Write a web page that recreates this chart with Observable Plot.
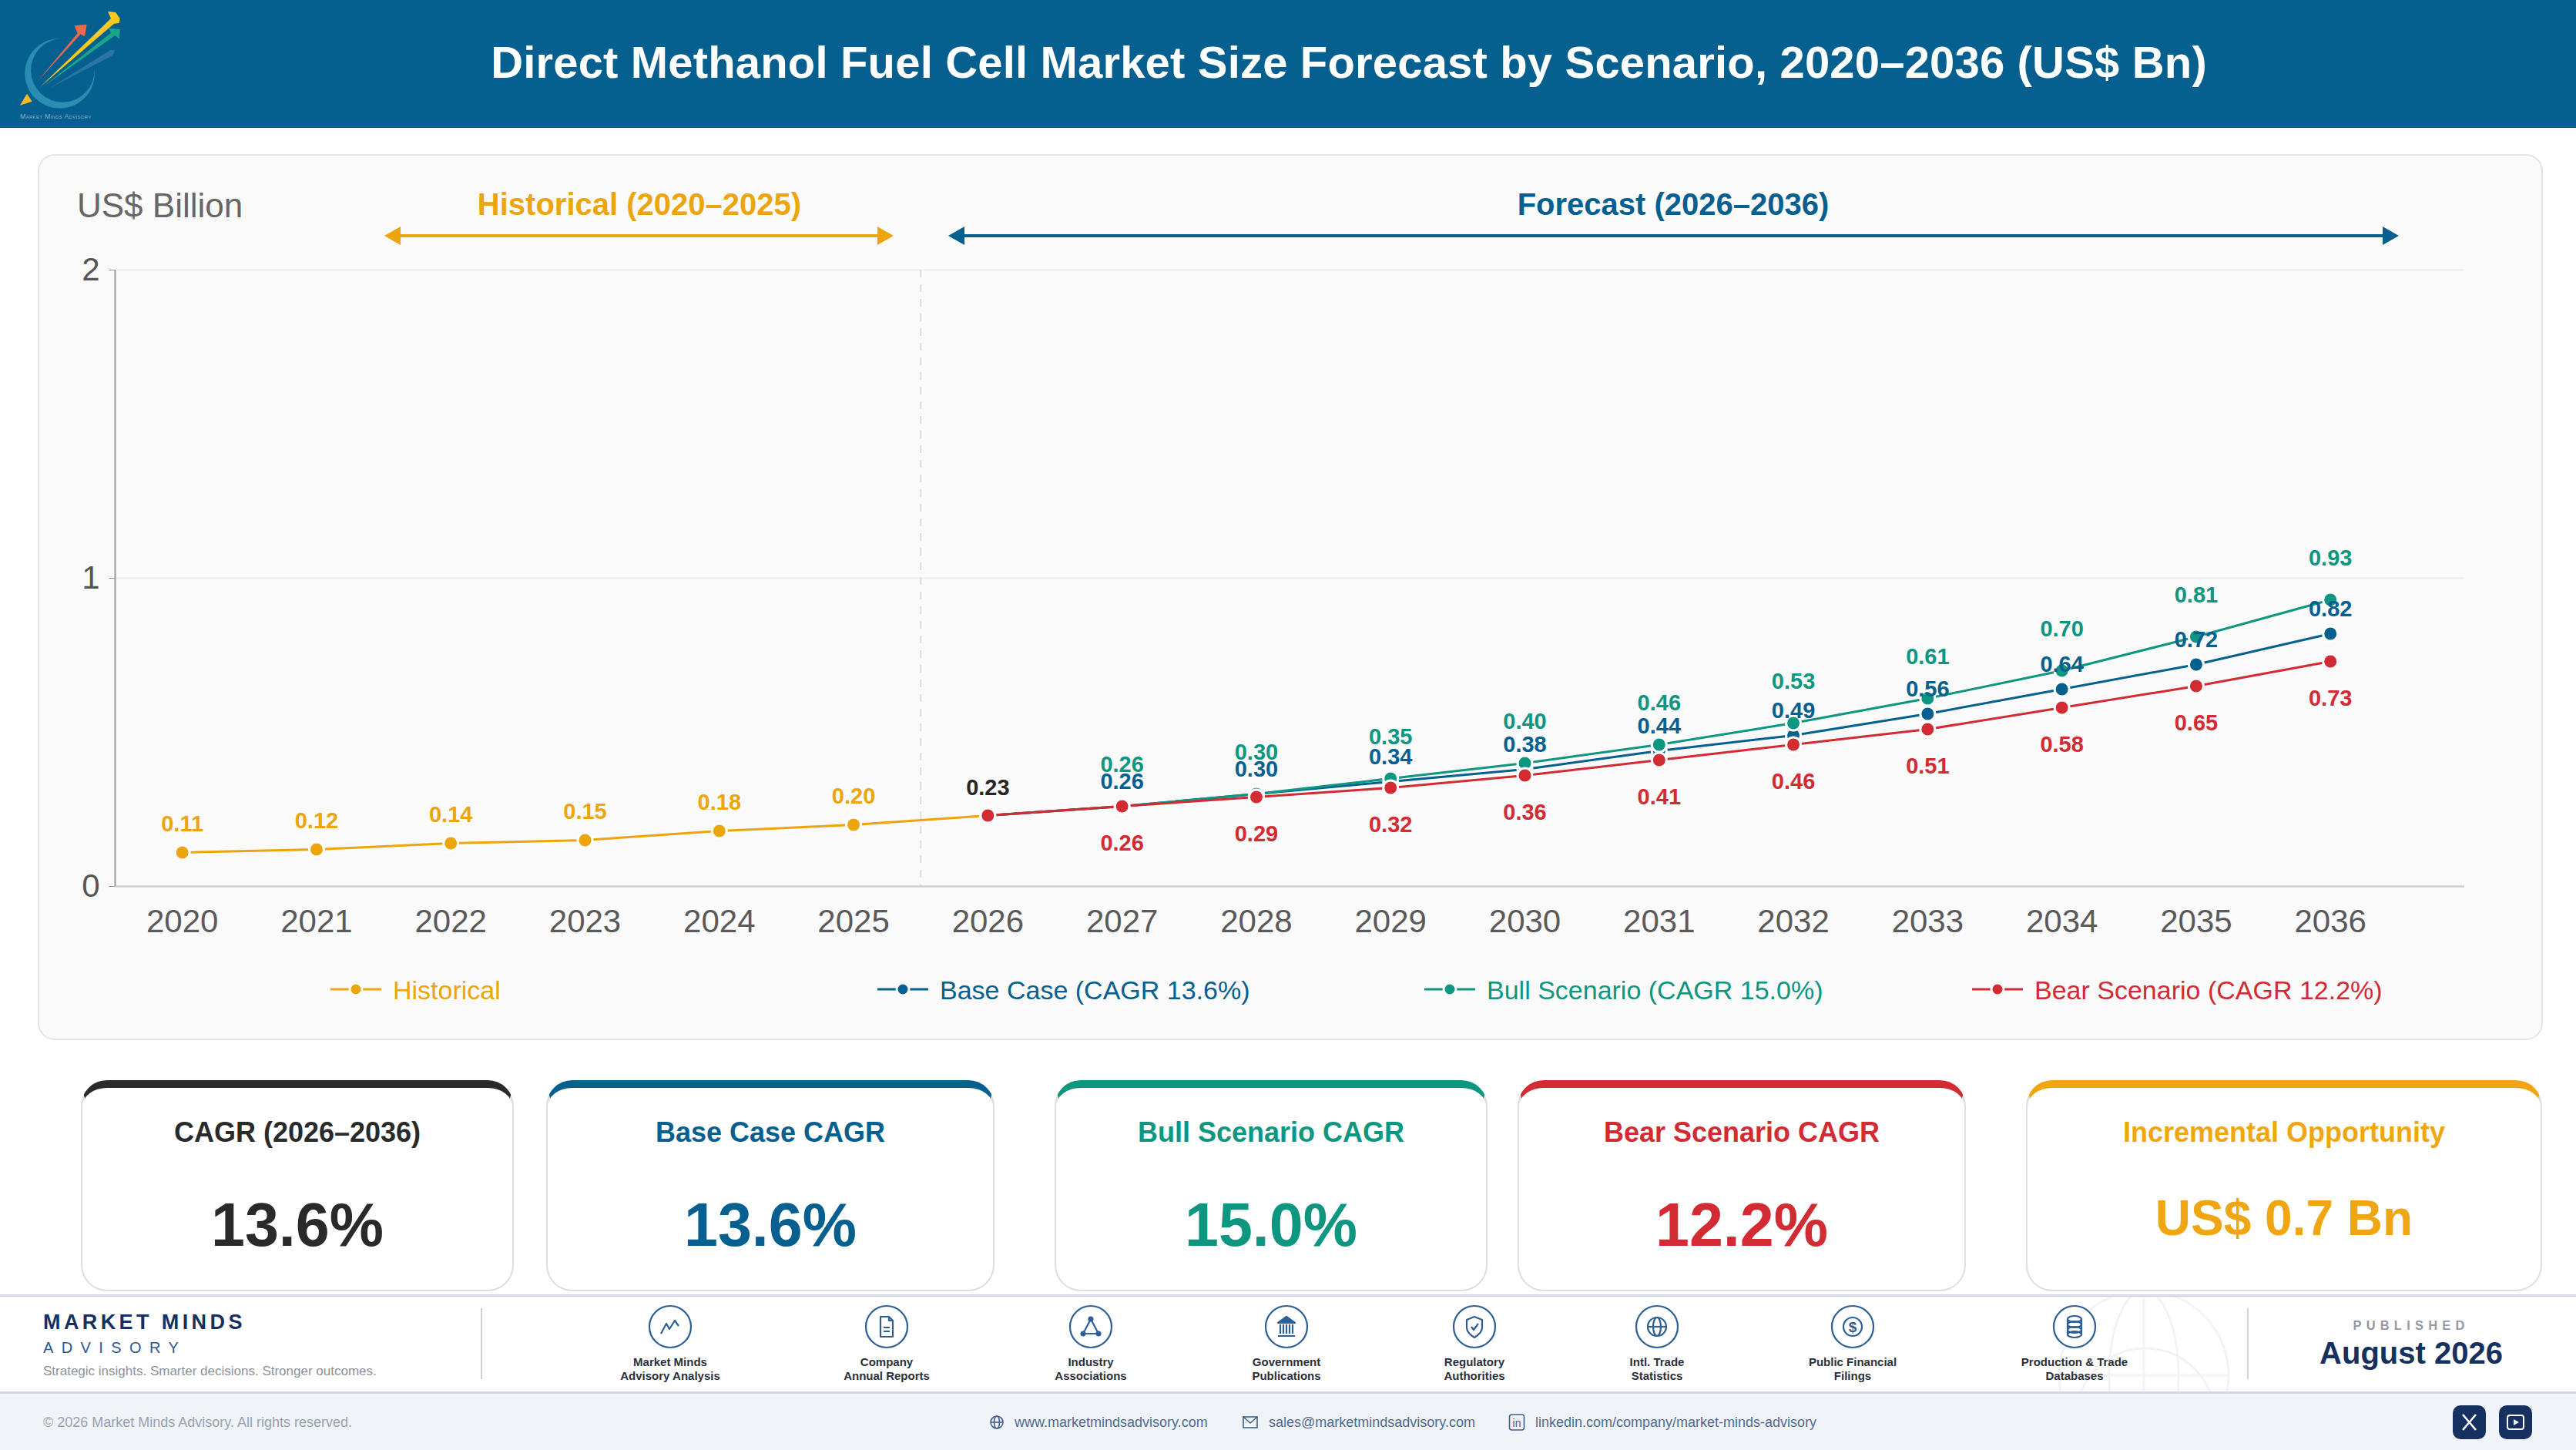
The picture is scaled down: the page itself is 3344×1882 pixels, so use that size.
<!DOCTYPE html>
<html>
<head>
<meta charset="utf-8">
<script src="https://cdn.jsdelivr.net/npm/d3@7"></script>
<script src="https://cdn.jsdelivr.net/npm/@observablehq/plot@0.6"></script>
<style>
html,body{margin:0;padding:0;background:#fff}
body{width:3344px;height:1882px;position:relative;overflow:hidden;font-family:"Liberation Sans",Arial,sans-serif}
.a{position:absolute;white-space:nowrap;line-height:1}
.c{transform:translate(-50%,-50%)}
.l{transform:translateY(-50%)}
.card{position:absolute;box-sizing:border-box;top:1402px;height:274px;background:#fff;border:2px solid #dedede;border-top-width:10px;border-top-style:solid;border-radius:34px}
.card .t{position:absolute;left:0;right:0;top:40px;text-align:center;font-weight:700;font-size:36px;line-height:1;white-space:nowrap}
.card .v{position:absolute;left:0;right:0;top:138px;text-align:center;font-weight:700;font-size:79px;line-height:1;white-space:nowrap}
</style>
</head>
<body>
<script>
const years = [2020,2021,2022,2023,2024,2025,2026,2027,2028,2029,2030,2031,2032,2033,2034,2035,2036];
const historicalYears = [2020,2021,2022,2023,2024,2025];
const historicalValues = [0.11,0.12,0.14,0.15,0.18,0.20];
const forecastYears = [2026,2027,2028,2029,2030,2031,2032,2033,2034,2035,2036];
const baseValues = [0.23,0.26,0.30,0.34,0.38,0.44,0.49,0.56,0.64,0.72,0.82];
const bullValues = [0.23,0.26,0.30,0.35,0.40,0.46,0.53,0.61,0.70,0.81,0.93];
const bearValues = [0.23,0.26,0.29,0.32,0.36,0.41,0.46,0.51,0.58,0.65,0.73];
const yTicks = [0,1,2];
const colors = {hist:"#eca50d",base:"#05608f",bull:"#0e9680",bear:"#d22b33",dark:"#262626"};

const cards = [
 {title:"CAGR (2026–2036)",value:"13.6%",color:"#2a2a2a",left:105,width:562},
 {title:"Base Case CAGR",value:"13.6%",color:"#05608f",left:709,width:582},
 {title:"Bull Scenario CAGR",value:"15.0%",color:"#0e9680",left:1369,width:562},
 {title:"Bear Scenario CAGR",value:"12.2%",color:"#d22b33",left:1970,width:582},
 {title:"Incremental Opportunity",value:"US$ 0.7 Bn",color:"#f0a612",left:2630,width:670,small:true}
];
const legendItems = [
 {label:"Historical",color:colors.hist,x:429},
 {label:"Base Case (CAGR 13.6%)",color:colors.base,x:1139},
 {label:"Bull Scenario (CAGR 15.0%)",color:colors.bull,x:1849},
 {label:"Bear Scenario (CAGR 12.2%)",color:colors.bear,x:2560}
];
const sources = [
 {l:["Market Minds","Advisory Analysis"],x:870,i:'<path d="M-12 9L-5 -4L-1 3L6 -8L11 -1" fill="none"/>'},
 {l:["Company","Annual Reports"],x:1151,i:'<path d="M-8 -13H3L8 -8V13H-8Z" fill="none"/><path d="M-4 1H4M-4 6H4M3 -13V-8H8" fill="none"/>'},
 {l:["Industry","Associations"],x:1416,i:'<path d="M0 -10L-10 9H10Z" fill="none"/><circle cx="0" cy="-10" r="2.5" fill="#2d5f96"/><circle cx="-10" cy="9" r="2.5" fill="#2d5f96"/><circle cx="10" cy="9" r="2.5" fill="#2d5f96"/>'},
 {l:["Government","Publications"],x:1670,i:'<path d="M0 -13L11 -5H-11Z" fill="#2d5f96"/><path d="M-8 -3V9M-4 -3V9M0 -3V9M4 -3V9M8 -3V9M-11 12H11" fill="none"/>'},
 {l:["Regulatory","Authorities"],x:1914,i:'<path d="M0 -13L10 -9V1C10 7 5 11 0 14C-5 11 -10 7 -10 1V-9Z" fill="none"/><path d="M-4 0L-1 4L5 -4" fill="none"/>'},
 {l:["Intl. Trade","Statistics"],x:2151,i:'<circle r="12" fill="none"/><ellipse rx="5" ry="12" fill="none"/><path d="M-12 0H12" fill="none"/>'},
 {l:["Public Financial","Filings"],x:2405,i:'<circle r="12" fill="none"/><text y="7" text-anchor="middle" font-size="19" font-weight="700" fill="#2d5f96" stroke="none" font-family="Liberation Sans">$</text>'},
 {l:["Production & Trade","Databases"],x:2693,i:'<ellipse cy="-10" rx="9" ry="4" fill="none"/><ellipse cy="-3" rx="9" ry="4" fill="none"/><ellipse cy="4" rx="9" ry="4" fill="none"/><ellipse cy="10" rx="9" ry="4" fill="none"/><path d="M-9 -10V10M9 -10V10" fill="none"/>'}
];
const contacts = [
 {text:"www.marketmindsadvisory.com",ix:1294,tx:1317,i:'<circle r="8" fill="none"/><ellipse rx="3.5" ry="8" fill="none"/><path d="M-8 0H8"/>'},
 {text:"sales@marketmindsadvisory.com",ix:1623,tx:1647,i:'<rect x="-9" y="-7" width="18" height="14" fill="none"/><path d="M-9 -7L0 1L9 -7" fill="none"/>'},
 {text:"linkedin.com/company/market-minds-advisory",ix:1969,tx:1993,i:'<rect x="-9.5" y="-10" width="19" height="20" rx="3" fill="none"/><text x="0" y="6" text-anchor="middle" font-size="14" fill="#3f5f8a" stroke="none" font-family="Liberation Sans">in</text>'}
];

function el(cls,style,html){const d=document.createElement("div");d.className=cls;d.style.cssText=style;if(html!==undefined)d.innerHTML=html;document.body.appendChild(d);return d;}

/* header */
el("a","left:0;top:0;width:3344px;height:166px;background:#05608f");
el("a c","left:1751px;top:81px;color:#fff;font-weight:700;font-size:58px;letter-spacing:0.17px","Direct Methanol Fuel Cell Market Size Forecast by Scenario, 2020–2036 (US$ Bn)");
el("a","left:0;top:0;width:180px;height:166px",`<svg width="180" height="166" viewBox="0 0 540 498">
 <path d="M240 150A136 136 0 1 0 368 270A124 124 0 1 1 240 150Z" fill="#2b8db2"/>
 <path d="M143 320L302 130L290 100L338 95L330 142L314 133Z" fill="#ec6a4c"/>
 <path d="M155 340L432 72L420 44L450 48L467 72L464 90L444 92Z" fill="#ffc91f"/>
 <path d="M165 340L432 128L424 110L468 114L464 152L448 138Z" fill="#1aa58b"/>
 <path d="M190 345L430 195L447 195L440 215Z" fill="#2a74a6"/>
 <path d="M105 365L125 395L78 410Z" fill="#fdb825"/>
 <text x="78" y="462" font-family="Liberation Sans" font-size="26" letter-spacing="1" font-variant="small-caps" fill="#8fb0c4">Market Minds Advisory</text>
</svg>`);

/* chart panel */
el("a","left:49px;top:200px;width:3252px;height:1150px;box-sizing:border-box;background:#fafafa;border:2px solid #e4e4e4;border-radius:22px");
el("a l","left:100px;top:267px;color:#666;font-size:44px","US$ Billion");
el("a c","left:830px;top:265px;color:#eca50d;font-size:40px;font-weight:700","Historical (2020–2025)");
el("a c","left:2172px;top:265px;color:#05608f;font-size:40px;font-weight:700","Forecast (2026–2036)");
function arrow(x0,x1,y,color){
 el("a",`left:${x0+18}px;top:${y-2}px;width:${x1-x0-36}px;height:4px;background:${color}`);
 el("a",`left:${x0}px;top:${y-12}px;width:0;height:0;border-top:12px solid transparent;border-bottom:12px solid transparent;border-right:21px solid ${color}`);
 el("a",`left:${x1-21}px;top:${y-12}px;width:0;height:0;border-top:12px solid transparent;border-bottom:12px solid transparent;border-left:21px solid ${color}`);
}
arrow(499,1160,306,colors.hist);
arrow(1231,3114,306,colors.base);

/* plot */
const pts = (xs,ys,s)=>xs.map((x,i)=>({year:x,value:ys[i],series:s}));
const hist = pts(historicalYears,historicalValues,"hist");
const histLine = hist.concat(pts([forecastYears[0]],[baseValues[0]],"hist"));
const bull = pts(forecastYears,bullValues,"bull");
const base = pts(forecastYears,baseValues,"base");
const bear = pts(forecastYears,bearValues,"bear");
const fmt = d=>d.value.toFixed(2);
const seriesMarks = (rows,color)=>[
 Plot.line(rows,{x:"year",y:"value",stroke:color,strokeWidth:3}),
 Plot.dot(rows,{x:"year",y:"value",r:9.5,fill:color,stroke:"#fff",strokeWidth:3})
];
const labelStyle = {x:"year",y:"value",text:fmt,fontSize:29,fontWeight:700};
const chart = Plot.plot({
 width:3250,height:1010,marginLeft:100,marginRight:100,marginTop:150,marginBottom:60,
 style:{fontFamily:"Liberation Sans, Arial, sans-serif",background:"transparent",overflow:"visible"},
 x:{type:"linear",domain:[2019.5,2037]},
 y:{domain:[0,2]},
 marks:[
  Plot.ruleY([1,2],{stroke:"#eeeeee",strokeWidth:2}),
  Plot.ruleX([2025.5],{stroke:"#dddddd",strokeWidth:2,strokeDasharray:"10 9"}),
  Plot.ruleY([0],{stroke:"#cfcfcf",strokeWidth:2.5}),
  Plot.ruleX([2019.5],{stroke:"#999999",strokeWidth:2}),
  Plot.axisY({ticks:yTicks,tickSize:8,tickPadding:12,fontSize:42,fill:"#555",stroke:"#999999",tickFormat:"d",label:null}),
  Plot.axisX({ticks:years,tickSize:0,tickPadding:30,fontSize:42,fill:"#5a5a5a",tickFormat:"d",label:null}),
  Plot.line(histLine,{x:"year",y:"value",stroke:colors.hist,strokeWidth:3}),
  Plot.dot(hist,{x:"year",y:"value",r:9.5,fill:colors.hist,stroke:"#fff",strokeWidth:3}),
  ...seriesMarks(base,colors.base),
  ...seriesMarks(bull,colors.bull),
  ...seriesMarks(bear,colors.bear),
  Plot.text(hist,{...labelStyle,dy:-37,fill:colors.hist}),
  Plot.text(base.slice(0,1),{...labelStyle,dy:-36,fill:colors.dark}),
  Plot.text(bull.slice(1),{...labelStyle,dy:-54,fill:colors.bull}),
  Plot.text(base.slice(1),{...labelStyle,dy:-32,fill:colors.base}),
  Plot.text(bear.slice(1),{...labelStyle,dy:48,fill:colors.bear})
 ]
});
chart.style.position="absolute";chart.style.left="49px";chart.style.top="200px";chart.style.maxWidth="none";
document.body.appendChild(chart);

/* legend */
legendItems.forEach(it=>{
 el("a",`left:${it.x}px;top:1269px;width:66px;height:30px`,`<svg width="66" height="30"><path d="M0 15H66" stroke="${it.color}" stroke-width="3"/><circle cx="33" cy="15" r="8" fill="${it.color}" stroke="#fafafa" stroke-width="3"/></svg>`);
 el("a l",`left:${it.x+81}px;top:1285px;font-size:34px;color:${it.color}`,it.label);
});

/* cards */
cards.forEach(c=>{
 const d=el("card",`left:${c.left}px;width:${c.width}px;border-top-color:${c.color}`);
 d.innerHTML=`<div class="t" style="color:${c.color}">${c.title}</div><div class="v" style="color:${c.color};${c.small?"font-size:64px;top:137px":""}">${c.value}</div>`;
});

/* footer */
el("a","left:0;top:1680px;width:3344px;height:3px;background:#d3d7e3");
el("a","left:0;top:1806px;width:3344px;height:76px;background:#f0f4f9;border-top:3px solid #d3d7e3;box-sizing:border-box");
el("a","left:2660px;top:1683px;width:250px;height:123px;overflow:hidden",`<svg width="250" height="123" viewBox="2660 1683 250 123" fill="none" stroke="#f3f3f3" stroke-width="3"><circle cx="2783" cy="1785" r="110"/><ellipse cx="2783" cy="1785" rx="45" ry="110"/><path d="M2673 1785H2893M2783 1675V1895"/><path d="M2700 1810C2730 1730 2840 1730 2870 1810"/></svg>`);
el("a l","left:56px;top:1716px;font-size:27px;font-weight:700;color:#16305f;letter-spacing:4.4px","MARKET MINDS");
el("a l","left:56px;top:1749px;font-size:20px;color:#2d5a8f;letter-spacing:10.4px","ADVISORY");
el("a l","left:56px;top:1779px;font-size:17px;color:#8c9199","Strategic insights. Smarter decisions. Stronger outcomes.");
el("a","left:624px;top:1698px;width:2px;height:92px;background:#d0d0d0");
el("a","left:2917px;top:1698px;width:2px;height:92px;background:#d0d4e0");
sources.forEach(s=>{
 el("a",`left:${s.x-29}px;top:1693px;width:58px;height:58px`,`<svg width="58" height="58" viewBox="-29 -29 58 58" stroke="#2d5f96" stroke-width="2.2" stroke-linejoin="round"><circle r="27" fill="#fff"/>${s.i}</svg>`);
 el("a c",`left:${s.x}px;top:1767px;font-size:15px;font-weight:700;color:#2a2f3a`,s.l[0]);
 el("a c",`left:${s.x}px;top:1785px;font-size:15px;font-weight:700;color:#2a2f3a`,s.l[1]);
});
el("a c","left:3130px;top:1720px;font-size:16.5px;font-weight:700;color:#9498a4;letter-spacing:6.2px","PUBLISHED");
el("a c","left:3130px;top:1756px;font-size:40px;font-weight:700;color:#16305f","August 2026");
el("a l","left:56px;top:1846px;font-size:18px;color:#9aa1ad","© 2026 Market Minds Advisory. All rights reserved.");
contacts.forEach(c=>{
 el("a",`left:${c.ix-12}px;top:1834px;width:24px;height:24px`,`<svg width="24" height="24" viewBox="-12 -12 24 24" stroke="#3f5f8a" stroke-width="1.6">${c.i}</svg>`);
 el("a l",`left:${c.tx}px;top:1846px;font-size:18px;color:#4f6a8e`,c.text);
});
el("a","left:3184px;top:1824px;width:43px;height:44px;background:#16305f;border-radius:10px",`<svg width="43" height="44" stroke="#fff" stroke-width="2.6"><path d="M13 12L30 32M30 12L13 32"/></svg>`);
el("a","left:3244px;top:1824px;width:43px;height:44px;background:#16305f;border-radius:10px",`<svg width="43" height="44"><rect x="11" y="13" width="21" height="18" rx="3" fill="none" stroke="#fff" stroke-width="2"/><path d="M19 18L26 22L19 26Z" fill="#fff"/></svg>`);
</script>
</body>
</html>
